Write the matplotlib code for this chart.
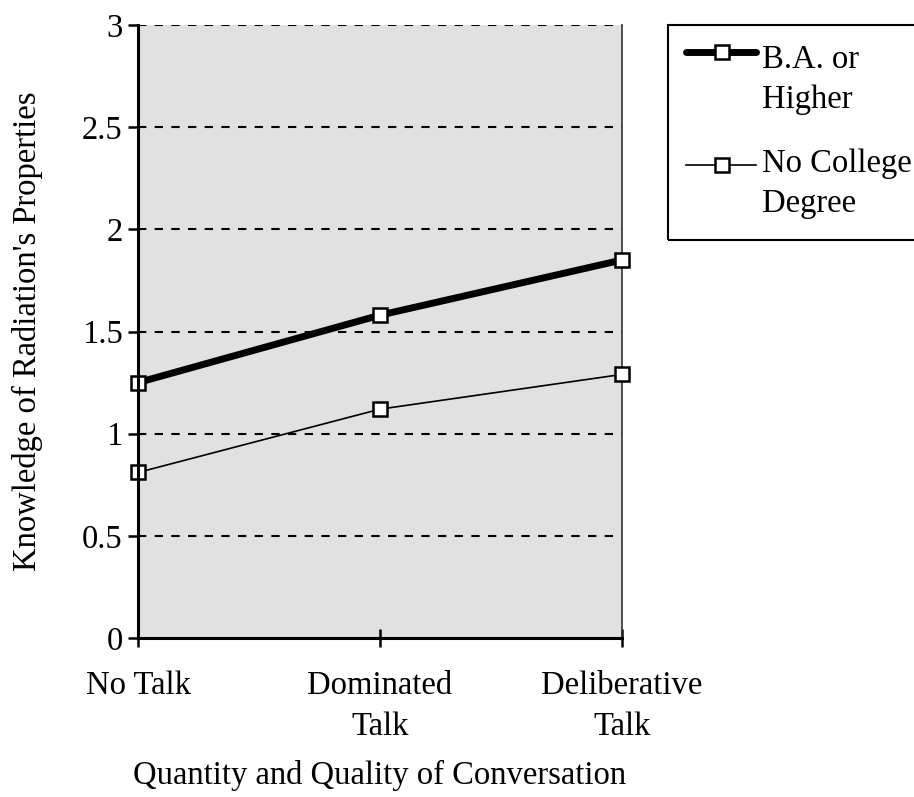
import matplotlib.pyplot as plt
from matplotlib.lines import Line2D
from matplotlib.patches import Rectangle

# datos del grafico
categorias = ['No Talk', 'Dominated\nTalk', 'Deliberative\nTalk']
ba_o_mas = [1.25, 1.58, 1.85]
sin_titulo = [0.81, 1.12, 1.29]
etiquetas = ['B.A. or\nHigher', 'No College\nDegree']

plt.rcParams['font.family'] = ['Liberation Serif', 'DejaVu Serif']
plt.rcParams['font.size'] = 23.5

W, H = 914, 797
fig = plt.figure(figsize=(W / 100, H / 100), dpi=100)
ax = fig.add_axes([0.151, 0.1995, 0.5295, 0.7691])
ax.set_facecolor('#e1e1e1')

estilos = [dict(lw=5, solid_capstyle='round'), dict(lw=1.2)]
x = list(range(len(categorias)))
for serie, est in zip([ba_o_mas, sin_titulo], estilos):
    ax.plot(x, serie, color='black', marker='s', ms=10, mfc='white',
            mec='black', mew=1.8, zorder=4, clip_on=False, **est)

# lineas de cuadricula punteadas
for v in [0.5, 1, 1.5, 2, 2.5, 3]:
    ax.axhline(v, color='black', lw=1.5, ls=(0, (4, 4)), zorder=1)

ax.set_xlim(0, 2)
ax.set_ylim(0, 3)
ax.set_yticks([0, 0.5, 1, 1.5, 2, 2.5, 3])
ax.set_yticklabels(['0', '0.5', '1', '1.5', '2', '2.5', '3'])
ax.set_xticks(x)
ax.set_xticklabels(categorias, va='top', linespacing=1.45)

ax.spines['top'].set_visible(False)
ax.spines['left'].set_linewidth(2.2)
ax.spines['bottom'].set_linewidth(2.2)
ax.spines['right'].set_linewidth(1.2)
ax.spines['right'].set_color('#333333')
ax.spines['bottom'].set_zorder(5)
ax.spines['left'].set_zorder(5)

ax.tick_params(axis='y', direction='out', length=7, width=1.8, pad=4)
ax.tick_params(axis='x', direction='inout', length=13, width=1.8, pad=17)

ax.set_ylabel("Knowledge of Radiation's Properties", labelpad=28)
ax.set_xlabel('Quantity and Quality of Conversation', labelpad=13)

# leyenda dibujada a mano (pixeles -> fraccion de figura)
def fx(p):
    return p / W

def fy(p):
    return 1 - p / H

fig.add_artist(Rectangle((fx(668), fy(240)), fx(930) - fx(668), fy(25) - fy(240),
                         transform=fig.transFigure, fill=False,
                         edgecolor='black', lw=1.5))
alto_marca = [52, 165]
base_texto = [68, 172]
for et, est, ym, yb in zip(etiquetas, estilos, alto_marca, base_texto):
    fig.add_artist(Line2D([fx(686), fx(756)], [fy(ym), fy(ym)],
                          transform=fig.transFigure, color='black', **est))
    fig.add_artist(Line2D([fx(722)], [fy(ym)], transform=fig.transFigure,
                          marker='s', ms=10, mfc='white', mec='black', mew=1.8))
    for k, linea in enumerate(et.split('\n')):
        fig.text(fx(762), fy(yb + 40 * k), linea, ha='left', va='baseline')

fig.savefig('out.png', dpi=100)
